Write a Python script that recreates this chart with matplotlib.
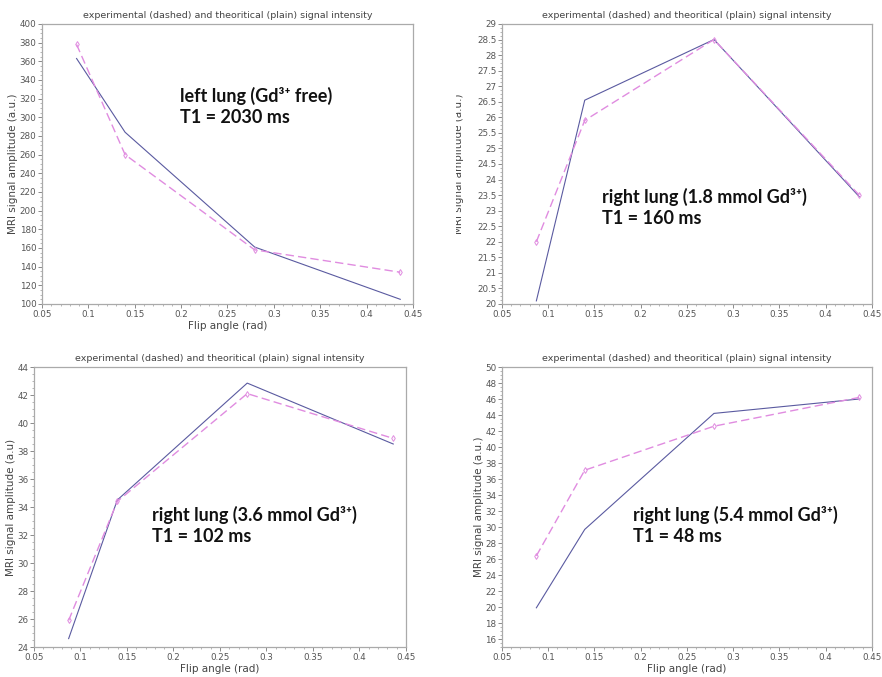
import matplotlib
matplotlib.use("Agg")
import matplotlib.pyplot as plt
from matplotlib.ticker import MultipleLocator, AutoMinorLocator
from matplotlib.transforms import Bbox

# flip angles (rad): 5, 8, 16, 25 degrees
flip = [0.0873, 0.1396, 0.2793, 0.4363]

# theoretical (plain) and experimental (dashed) signal for each lung
theo_left = [363, 284, 161, 105]
exp_left = [378, 260, 158, 134]

theo_r18 = [20.1, 26.55, 28.5, 23.45]
exp_r18 = [22.0, 25.9, 28.5, 23.5]

theo_r36 = [24.6, 34.5, 42.85, 38.5]
exp_r36 = [25.9, 34.4, 42.1, 38.9]

theo_r54 = [19.9, 29.7, 44.2, 46.0]
exp_r54 = [26.4, 37.1, 42.6, 46.2]

labels = ["left lung (Gd³⁺ free)\nT1 = 2030 ms",
          "right lung (1.8 mmol Gd³⁺)\nT1 = 160 ms",
          "right lung (3.6 mmol Gd³⁺)\nT1 = 102 ms",
          "right lung (5.4 mmol Gd³⁺)\nT1 = 48 ms"]
ylabels = ["MRI signal amplitude (a.u.)", "MRI signal amplitude (a.u.)",
           "MRI signal amplitude (a.u)", "MRI signal amplitude (a.u.)"]
ylims = [(100, 400), (20, 29), (24, 44), (15, 50)]
ysteps = [20, 0.5, 2, 2]

title = "experimental (dashed) and theoritical (plain) signal intensity"

fig = plt.figure(figsize=(8.82, 6.77), dpi=100)

# axes boxes [left, bottom, width, height]
boxes = [[0.0476, 0.551, 0.4206, 0.4136],
         [0.569, 0.551, 0.4195, 0.4136],
         [0.0385, 0.0443, 0.4218, 0.4136],
         [0.569, 0.0443, 0.4195, 0.4136]]
text_pos = [(0.372, 0.775), (0.2715, 0.415), (0.317, 0.505), (0.355, 0.505)]

theo = [theo_left, theo_r18, theo_r36, theo_r54]
expe = [exp_left, exp_r18, exp_r36, exp_r54]

for i in range(4):
    ax = fig.add_axes(boxes[i])
    ax.plot(flip, theo[i], color="#5a5aa0", lw=0.8)
    ax.plot(flip, expe[i], color="#e08ce0", lw=1.0, ls=(0, (6, 3)),
            marker="d", ms=3, mfc="none", mew=0.7)
    ax.set_xlim(0.05, 0.45)
    ax.set_ylim(*ylims[i])
    ax.xaxis.set_major_locator(MultipleLocator(0.05))
    ax.yaxis.set_major_locator(MultipleLocator(ysteps[i]))
    ax.xaxis.set_minor_locator(AutoMinorLocator(5))
    ax.yaxis.set_minor_locator(AutoMinorLocator(4))
    ax.xaxis.set_major_formatter(lambda v, p: f"{v:g}")
    ax.yaxis.set_major_formatter(lambda v, p: f"{v:g}")
    ax.tick_params(which="major", length=3, width=0.6, labelsize=6.3,
                   colors="#777777", labelcolor="#555555", pad=1)
    ax.tick_params(which="minor", length=1.5, width=0.5, colors="#999999")
    for s in ax.spines.values():
        s.set_color("#aaaaaa")
        s.set_linewidth(0.9)
    ax.set_title(title, fontsize=6.8, color="#444444", pad=4)
    if i != 1:
        ax.set_xlabel("Flip angle (rad)", fontsize=7.5, color="#444444", labelpad=2)
        ax.set_ylabel(ylabels[i], fontsize=7.5, color="#444444", labelpad=1)
    ax.text(text_pos[i][0], text_pos[i][1], labels[i], transform=ax.transAxes,
            ha="left", va="top", fontsize=13, fontweight="bold",
            family=["Lato", "DejaVu Sans"], color="#111111", linespacing=1.3)

# the y label of the top-right panel is half cut off in the original screenshot
yl = fig.text(459 / 882, 1 - 164 / 677, ylabels[1], rotation=90, ha="center",
              va="center", fontsize=7.5, color="#444444")
yl.set_clip_box(Bbox.from_extents(456, 0, 882, 677))
yl.set_clip_on(True)

fig.savefig("out.png", dpi=100)
